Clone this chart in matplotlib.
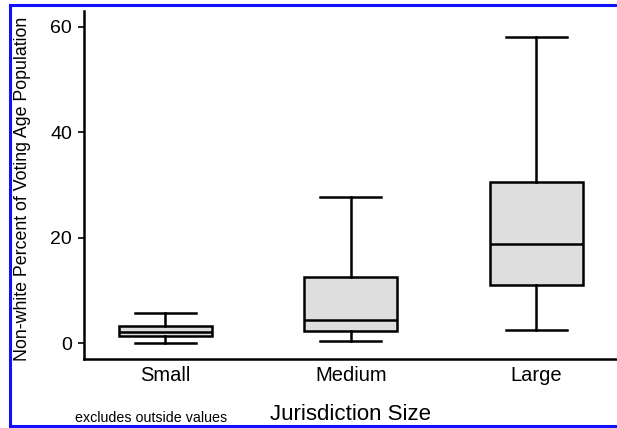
import matplotlib
matplotlib.use('Agg')
import matplotlib.pyplot as plt

plt.rcParams['font.family'] = ['Liberation Sans', 'DejaVu Sans']

# box plot summary values
categories = ['Small', 'Medium', 'Large']
whisker_low = [0.0, 0.5, 2.5]
q1 = [1.3, 2.4, 11.0]
median = [2.1, 4.5, 18.8]
q3 = [3.2, 12.6, 30.6]
whisker_high = [5.8, 27.8, 58.1]
yticks = [0, 20, 40, 60]

stats = []
for i, name in enumerate(categories):
    stats.append({'label': name, 'whislo': whisker_low[i], 'q1': q1[i], 'med': median[i],
                  'q3': q3[i], 'whishi': whisker_high[i], 'fliers': []})

fig = plt.figure(figsize=(6.17, 4.28), dpi=100)
ax = fig.add_axes([0.136, 0.161, 0.864, 0.814])

lw = 1.8
ax.bxp(stats, positions=[1, 2, 3], widths=0.5, patch_artist=True, showfliers=False,
       boxprops=dict(facecolor='#dedede', edgecolor='black', linewidth=lw),
       medianprops=dict(color='black', linewidth=lw),
       whiskerprops=dict(color='black', linewidth=lw),
       capprops=dict(color='black', linewidth=lw), capwidths=0.33)

ax.set_xlim(0.561, 3.436)
ax.set_ylim(-3, 63)
ax.set_yticks(yticks)
ax.tick_params(axis='y', labelsize=14, length=4.5, width=1.2, pad=4)
ax.tick_params(axis='x', labelsize=14.5, length=0, pad=5)
for s in ['top', 'right']:
    ax.spines[s].set_visible(False)
for s in ['left', 'bottom']:
    ax.spines[s].set_linewidth(1.8)

ax.set_ylabel('Non-white Percent of Voting Age Population', fontsize=12.8)
ax.yaxis.set_label_coords(-0.099, 0.49)
ax.set_xlabel('Jurisdiction Size', fontsize=16)
ax.xaxis.set_label_coords(0.5, -0.13)
fig.text(75 / 617, 1 - 418 / 428, 'excludes outside values', fontsize=10.3, va='center', ha='left')

# blue frame around the figure (left, top, bottom)
blue = '#1010ff'
fig.add_artist(plt.Line2D([10 / 617, 10 / 617], [1 - 4.5 / 428, 1 - 426 / 428], color=blue, lw=2.2, transform=fig.transFigure))
fig.add_artist(plt.Line2D([10 / 617, 1], [1 - 4.5 / 428, 1 - 4.5 / 428], color=blue, lw=2.2, transform=fig.transFigure))
fig.add_artist(plt.Line2D([10 / 617, 1], [1 - 426 / 428, 1 - 426 / 428], color=blue, lw=2.2, transform=fig.transFigure))

fig.savefig('out.png', dpi=100)
